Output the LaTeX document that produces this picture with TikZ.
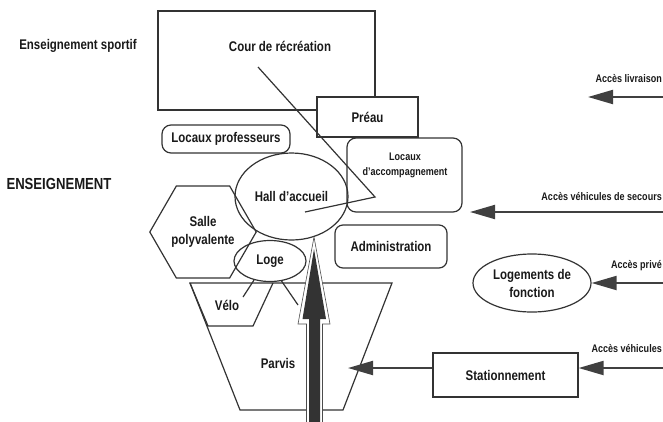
\documentclass[tikz,border=0pt]{standalone}
\usepackage{fontspec}
\setmainfont{Liberation Sans}[FakeStretch=0.82]
\usetikzlibrary{arrows.meta,shapes.geometric,calc}
\begin{document}
\begin{tikzpicture}[x=1pt,y=-1pt,
  ln/.style={draw=black!80, line width=1.2pt},
  box/.style={ln, rectangle, inner sep=0pt},
  rbox/.style={ln, rectangle, rounded corners=9pt, inner sep=0pt},
  oval/.style={ln, ellipse, inner sep=0pt},
  lbl/.style={font=\bfseries\fontsize{14}{18}\selectfont, text=black!90, align=center, inner sep=0pt},
  small/.style={font=\bfseries\fontsize{11}{15}\selectfont, text=black!90, align=center, inner sep=0pt},
  acc/.style={draw=black!75, line width=2pt, -{Triangle[length=25pt,width=14pt]}},
]
\useasboundingbox (0,0) rectangle (663,421);

% left labels
\node[lbl] (sport) at (78,46) {Enseignement sportif};
\node[lbl, font=\bfseries\fontsize{16}{18}\selectfont] (ens) at (59,184) {ENSEIGNEMENT};

% cour + preau
\node[box, minimum width=217pt, minimum height=99pt] (cour) at (266.5,60.5) {};
\node[lbl] (courtxt) at (280,46) {Cour de récréation};
\node[box, lbl, fill=white, minimum width=101pt, minimum height=40pt] (preau) at (367.5,117) {Préau};

% diagonal line
\coordinate (d1) at (258,67);
\coordinate (d2) at (375,197);
\coordinate (d3) at (305,212);
\draw[ln] (d1) -- (d2) -- (d3);

% rounded boxes
\node[rbox, lbl, minimum width=128pt, minimum height=28pt] (locprof) at (226,139) {Locaux professeurs};
\node[rbox, minimum width=115pt, minimum height=74pt] (locacc) at (404.5,175) {};
\node[small] (locacctxt) at (405,165) {Locaux\\d'accompagnement};
\node[rbox, lbl, rounded corners=8pt, minimum width=112pt, minimum height=43pt] (admin) at (391,246.5) {Administration};

% hall, salle, loge
\node[oval, lbl, minimum width=113pt, minimum height=87pt] (hall) at (291.5,196.5) {Hall d'accueil};
\node[ln, regular polygon, regular polygon sides=6, minimum size=91pt, lbl, inner sep=1pt] (salle) at (203,232) {Salle\\polyvalente};
\node[oval, lbl, minimum width=72pt, minimum height=41pt] (loge) at (270,261) {Loge};

% parvis and velo
\coordinate (p1) at (190,283);
\coordinate (p2) at (392,283);
\coordinate (p3) at (343,410);
\coordinate (p4) at (240,410);
\draw[ln] (p1) -- (p2) -- (p3) -- (p4) -- cycle;
\coordinate (v1) at (208,326);
\coordinate (v2) at (253,326);
\coordinate (v3) at (273,283);
\draw[ln] (p1) -- (v1) -- (v2) -- (v3);
\node[lbl] (velo) at (227,305) {Vélo};
\node[lbl] (parvis) at (278,363) {Parvis};

% loge links
\coordinate (lv1) at (243,297);
\coordinate (lv2) at (298,305);
\draw[ln] (loge.230) -- (lv1);
\draw[ln] (loge.300) -- (lv2);

% big entrance arrow
\draw[draw=black!70, line width=0.6pt, fill=white]
  (314,237) -- (330,324) -- (322.5,324) -- (322.5,425) -- (306.5,425) -- (306.5,324) -- (298,324) -- cycle;
\fill[black!80]
  (314,249) -- (326,319) -- (320,319) -- (320,425) -- (309,425) -- (309,319) -- (302.5,319) -- cycle;

% logements, stationnement
\node[oval, lbl, minimum width=118pt, minimum height=58pt] (logt) at (532,283) {Logements de\\fonction};
\node[box, lbl, minimum width=145pt, minimum height=44pt] (stat) at (505.5,375) {Stationnement};

% access arrows
\coordinate (liv0) at (663,97);
\coordinate (liv1) at (588,97);
\draw[acc] (liv0) -- (liv1);
\coordinate (sec0) at (663,212);
\coordinate (sec1) at (470,212);
\draw[acc] (sec0) -- (sec1);
\coordinate (pri0) at (663,283);
\draw[acc] (pri0) -- (logt.east);
\coordinate (veh0) at (663,368);
\draw[acc] (veh0) -- (stat.east |- veh0);
\coordinate (pv) at (348,368);
\draw[acc] (stat.west |- pv) -- (pv);

\node[small, anchor=east] (tliv) at (662,79) {Accès livraison};
\node[small, anchor=east] (tsec) at (662,197) {Accès véhicules de secours};
\node[small, anchor=east] (tpri) at (662,266) {Accès privé};
\node[small, anchor=east] (tveh) at (662,349) {Accès véhicules};
\end{tikzpicture}
\end{document}
